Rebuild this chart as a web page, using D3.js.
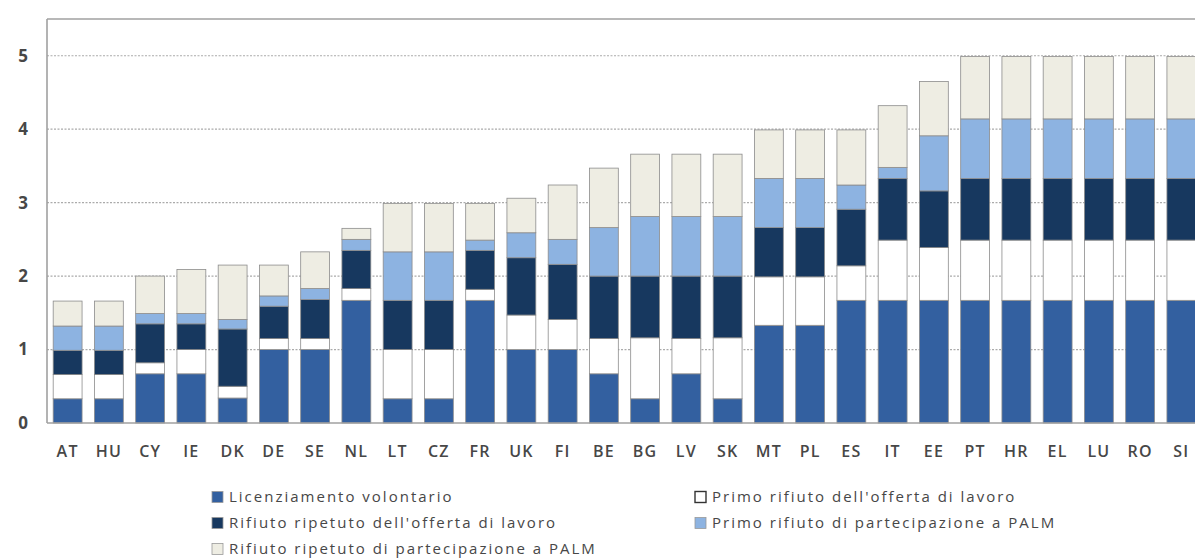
<!DOCTYPE html>
<html>
<head>
<meta charset="utf-8">
<script src="https://cdn.jsdelivr.net/npm/d3@7/dist/d3.min.js"></script>
<style>
  html, body { margin: 0; padding: 0; background: #ffffff; }
  svg { display: block; font-family: "Open Sans", "DejaVu Sans", sans-serif; }
</style>
</head>
<body>
<svg id="chart" width="1195" height="560"></svg>
<script>
// Paesi, nell'ordine del grafico
const countries = ["AT","HU","CY","IE","DK","DE","SE","NL","LT","CZ","FR","UK","FI","BE",
                   "BG","LV","SK","MT","PL","ES","IT","EE","PT","HR","EL","LU","RO","SI"];

// Valori di ciascuna componente (dal basso verso l'alto)
const licenziamento   = [0.33,0.33,0.67,0.67,0.34,1.00,1.00,1.67,0.33,0.33,1.67,1.00,1.00,0.67,
                         0.33,0.67,0.33,1.33,1.33,1.67,1.67,1.67,1.67,1.67,1.67,1.67,1.67,1.67];
const primoOfferta    = [0.33,0.33,0.15,0.33,0.16,0.15,0.15,0.16,0.67,0.67,0.15,0.47,0.41,0.48,
                         0.83,0.48,0.83,0.66,0.66,0.47,0.82,0.72,0.82,0.82,0.82,0.82,0.82,0.82];
const ripetutoOfferta = [0.33,0.33,0.53,0.35,0.78,0.44,0.53,0.52,0.67,0.67,0.53,0.78,0.75,0.85,
                         0.84,0.85,0.84,0.67,0.67,0.77,0.84,0.77,0.84,0.84,0.84,0.84,0.84,0.84];
const primoPalm       = [0.33,0.33,0.14,0.14,0.13,0.14,0.15,0.15,0.66,0.66,0.14,0.34,0.34,0.66,
                         0.81,0.81,0.81,0.67,0.67,0.33,0.15,0.75,0.81,0.81,0.81,0.81,0.81,0.81];
const ripetutoPalm    = [0.34,0.34,0.51,0.60,0.74,0.42,0.50,0.15,0.66,0.66,0.50,0.47,0.74,0.81,
                         0.85,0.85,0.85,0.66,0.66,0.75,0.84,0.74,0.85,0.85,0.85,0.85,0.85,0.85];

const yTicks = [0, 1, 2, 3, 4, 5];

const seriesNames = [
  "Licenziamento volontario",
  "Primo rifiuto dell'offerta di lavoro",
  "Rifiuto ripetuto dell'offerta di lavoro",
  "Primo rifiuto di partecipazione a PALM",
  "Rifiuto ripetuto di partecipazione a PALM"
];
const seriesValues = [licenziamento, primoOfferta, ripetutoOfferta, primoPalm, ripetutoPalm];
const colors = ["#3360a0", "#ffffff", "#17385f", "#8db3e1", "#eeede3"];

// Tabella per d3.stack
const rows = countries.map((c, i) => {
  const r = { country: c };
  seriesNames.forEach((s, k) => { r[s] = seriesValues[k][i]; });
  return r;
});

const svg = d3.select("#chart");
const plot = { left: 47, right: 1202, top: 19, bottom: 423 };

const x = d3.scaleBand()
  .domain(countries)
  .range([plot.left, plot.right])
  .paddingInner(0.3)
  .paddingOuter(0.15);

const y = d3.scaleLinear()
  .domain([0, 5.5])
  .range([plot.bottom, plot.top]);

// Griglia orizzontale tratteggiata
svg.append("g")
  .selectAll("line")
  .data(yTicks.filter(t => t > 0))
  .join("line")
  .attr("x1", plot.left).attr("x2", 1195)
  .attr("y1", d => y(d)).attr("y2", d => y(d))
  .attr("stroke", "#ababab")
  .attr("stroke-width", 1.2)
  .attr("stroke-dasharray", "2,1.5");

// Cornice dell'area del grafico
svg.append("line")
  .attr("x1", plot.left).attr("x2", 1195)
  .attr("y1", plot.top).attr("y2", plot.top)
  .attr("stroke", "#a0a0a0").attr("stroke-width", 1.6);
svg.append("line")
  .attr("x1", plot.left).attr("x2", plot.left)
  .attr("y1", plot.top).attr("y2", plot.bottom)
  .attr("stroke", "#a0a0a0").attr("stroke-width", 1.6);

// Barre impilate
const stacked = d3.stack().keys(seriesNames)(rows);

svg.append("g")
  .selectAll("g")
  .data(stacked)
  .join("g")
  .attr("fill", (d, i) => colors[i])
  .selectAll("rect")
  .data(d => d)
  .join("rect")
  .attr("x", d => x(d.data.country))
  .attr("width", x.bandwidth())
  .attr("y", d => y(d[1]))
  .attr("height", d => y(d[0]) - y(d[1]))
  .attr("stroke", "#8c8c8c")
  .attr("stroke-width", 0.8);

// Asse orizzontale
svg.append("line")
  .attr("x1", plot.left).attr("x2", 1195)
  .attr("y1", plot.bottom).attr("y2", plot.bottom)
  .attr("stroke", "#a0a0a0").attr("stroke-width", 1.6);

const xAxis = svg.append("g")
  .attr("transform", `translate(0,${plot.bottom})`)
  .call(d3.axisBottom(x).tickSize(0).tickPadding(23));
xAxis.select(".domain").remove();
xAxis.selectAll("text")
  .attr("font-size", 16)
  .attr("font-weight", 600)
  .attr("letter-spacing", 1.2)
  .attr("font-family", "Open Sans, DejaVu Sans, sans-serif")
  .attr("fill", "#474747");

const yAxis = svg.append("g")
  .attr("transform", `translate(${plot.left},0)`)
  .call(d3.axisLeft(y).tickValues(yTicks).tickFormat(d3.format("d")).tickSize(0).tickPadding(19));
yAxis.select(".domain").remove();
yAxis.selectAll("text")
  .attr("font-size", 17)
  .attr("font-weight", 700)
  .attr("font-family", "Open Sans, DejaVu Sans, sans-serif")
  .attr("fill", "#474747");

// Legenda a due colonne
const legendPos = [
  { x: 212, y: 497 }, { x: 695, y: 497 },
  { x: 212, y: 523 }, { x: 695, y: 523 },
  { x: 212, y: 549 }
];
const legendOrder = [0, 1, 2, 3, 4];
const legend = svg.append("g")
  .selectAll("g")
  .data(legendOrder)
  .join("g")
  .attr("transform", (k, i) => `translate(${legendPos[i].x},${legendPos[i].y})`);

legend.append("rect")
  .attr("x", 0).attr("y", -5.5)
  .attr("width", 11).attr("height", 11)
  .attr("fill", k => colors[k])
  .attr("stroke", k => k === 1 ? "#333" : "#9a9a9a")
  .attr("stroke-width", k => k === 1 ? 1.4 : 0.8);

legend.append("text")
  .attr("x", 17).attr("y", 0)
  .attr("dy", "0.36em")
  .attr("font-size", 15)
  .attr("letter-spacing", 2)
  .attr("fill", "#474747")
  .text(k => seriesNames[k]);
</script>
</body>
</html>
